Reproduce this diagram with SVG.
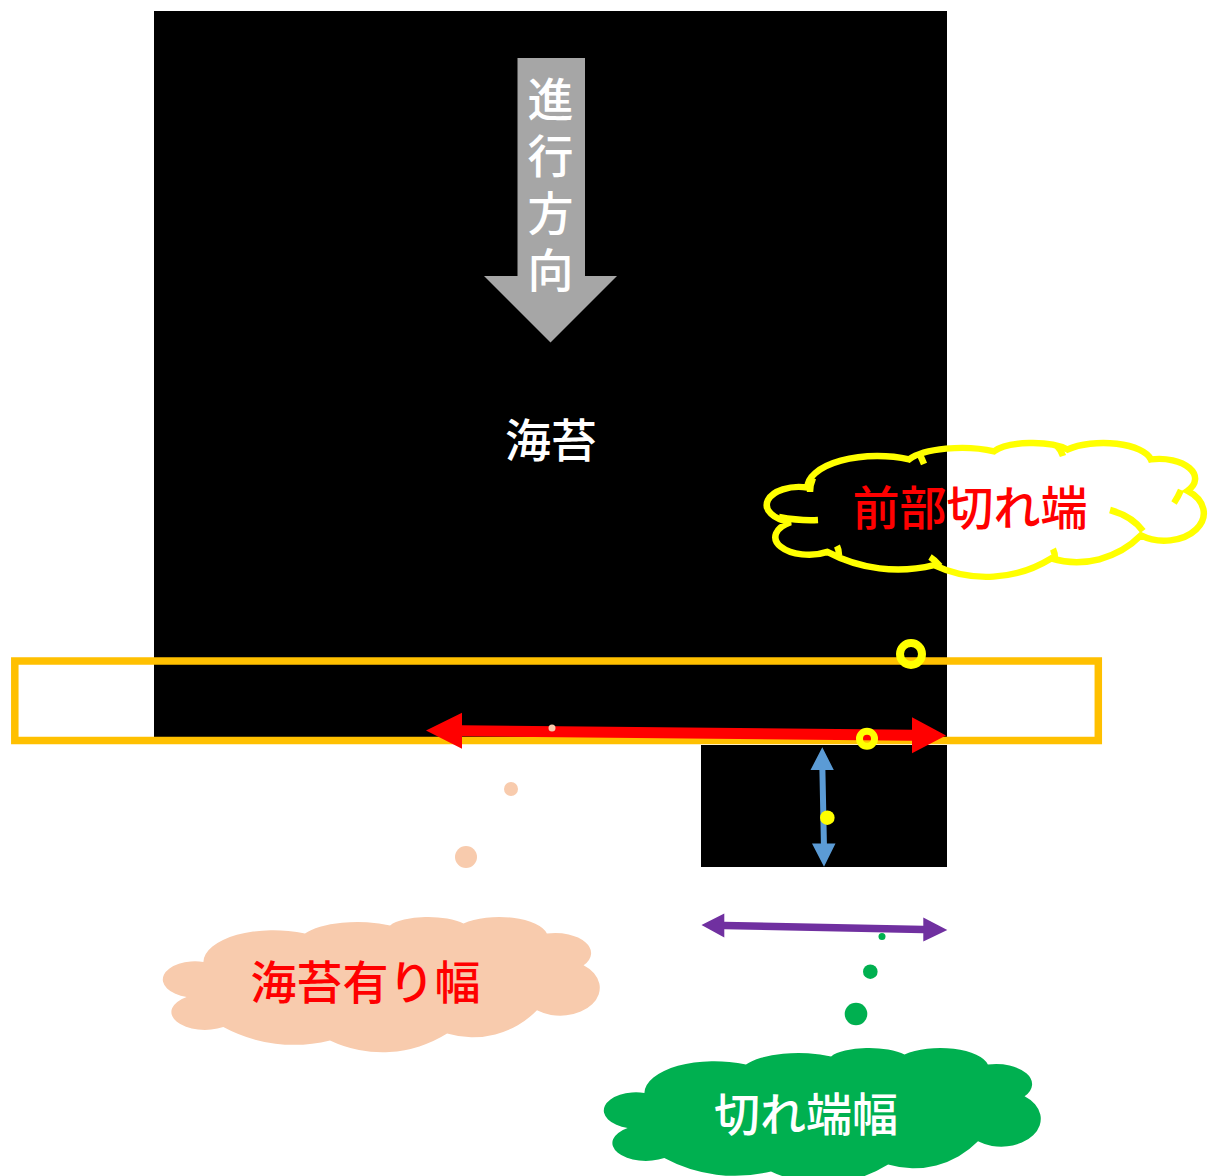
<svg xmlns="http://www.w3.org/2000/svg" width="1208" height="1176" viewBox="0 0 1208 1176">
  <style>
    .t{font-family:"Noto Sans CJK JP","Noto Sans CJK SC",sans-serif;font-size:46px;font-weight:500;text-anchor:middle;dominant-baseline:central}
    .w{fill:#FFFFFF}
    .r{fill:#FF0000}
    .yl{fill:none;stroke:#FFFF00;stroke-width:6.5;stroke-linecap:butt}
  </style>
  <defs>
    <path id="cloud" d="M38.4,45 A70,32 0 0 1 140,16.6 A58,20 0 0 1 225.1,8.4 A41.6,14 0 0 1 298.5,6.6 A48.3,20 0 0 1 381.9,16.6 A36,20 0 0 1 418.6,48.3 A34,24 0 0 1 372,93.3 A90,90 0 0 1 282.1,116.6 A122,122 0 0 1 165,123.4 A149,149 0 0 1 58.3,110 A30,16 0 0 1 21.6,80 A32,18 0 0 1 38.4,45 Z"/>
  </defs>
  <rect width="1208" height="1176" fill="#FFFFFF"/>

  <g id="nori">
    <rect x="154" y="11" width="793" height="726" fill="#000000"/>
    <text class="t w" x="551" y="437">海苔</text>
  </g>

  <g id="scrap">
    <rect x="701" y="745" width="246" height="122" fill="#000000"/>
  </g>

  <g id="direction">
    <polygon points="517.5,58 585,58 585,276 617,276 550.5,342.5 484,276 517.5,276" fill="#A6A6A6"/>
    <text class="t w" x="550.5" y="76" writing-mode="vertical-rl" letter-spacing="11" style="text-anchor:start">進行方向</text>
  </g>

  <g id="detect-zone">
    <rect x="14.8" y="661" width="1083.5" height="79.5" fill="none" stroke="#FFC000" stroke-width="7.5"/>
  </g>

  <g id="connectors">
    <polygon id="nori-width-arrow" points="426,730.5 462,712.8 462,725.3 912,729.7 912,717.2 946,735.5 912,753.2 912,740.7 462,736.3 462,748.8" fill="#FF0000"/>
    <polygon id="scrap-length-arrow" points="822.3,747.3 833.8,770 825.4,770 826.9,843.5 835.5,843.5 824,866.7 812,843.5 820.9,843.5 819.4,770 810.5,770" fill="#5B9BD5"/>
    <polygon id="scrap-width-arrow" points="701.5,925 724.3,913.5 724.3,921.8 923.3,925.8 923.3,917.5 947.3,930 923.3,941.5 923.3,933.2 724.3,929.2 724.3,937.5" fill="#7030A0"/>
    <circle cx="911" cy="654" r="11" fill="none" stroke="#FFFF00" stroke-width="8"/>
    <circle cx="867" cy="738.7" r="7.5" fill="none" stroke="#FFFF00" stroke-width="7"/>
    <circle cx="827.3" cy="817.7" r="7.3" fill="#FFFF00"/>
    <circle cx="552" cy="728" r="3.5" fill="#F8CBAD"/>
    <circle cx="511" cy="789" r="7" fill="#F8CBAD"/>
    <circle cx="466" cy="857" r="11" fill="#F8CBAD"/>
    <circle cx="882" cy="936.5" r="3.5" fill="#00B050"/>
    <circle cx="870.3" cy="971.7" r="7.3" fill="#00B050"/>
    <circle cx="856" cy="1014" r="11.3" fill="#00B050"/>
  </g>

  <g id="front-scrap-label">
    <use href="#cloud" transform="translate(769,443) scale(1,0.99)" class="yl"/>
    <path class="yl" d="M779,517 Q800,521 818,520"/>
    <path class="yl" d="M810,492 Q810,485 813,478"/>
    <path class="yl" d="M920,455 Q922,459 924,464"/>
    <path class="yl" d="M1057,446 Q1061,450 1063,456"/>
    <path class="yl" d="M1174,503 Q1178,497 1181,490"/>
    <path class="yl" d="M1110,510 Q1132,516 1143,531"/>
    <path class="yl" d="M1053,549 Q1055,553 1055,559"/>
    <path class="yl" d="M930,557 Q935,560 940,566"/>
    <path class="yl" d="M837,546 Q839,550 839,555"/>
    <text class="t r" x="970" y="504" style="font-size:47px">前部切れ端</text>
  </g>

  <g id="nori-width-label">
    <use href="#cloud" transform="translate(165,917)" fill="#F8CBAD"/>
    <text class="t r" x="365.5" y="979">海苔有り幅</text>
  </g>

  <g id="scrap-width-label">
    <use href="#cloud" transform="translate(606,1048)" fill="#00B050"/>
    <text class="t w" x="806" y="1111">切れ端幅</text>
  </g>
</svg>
